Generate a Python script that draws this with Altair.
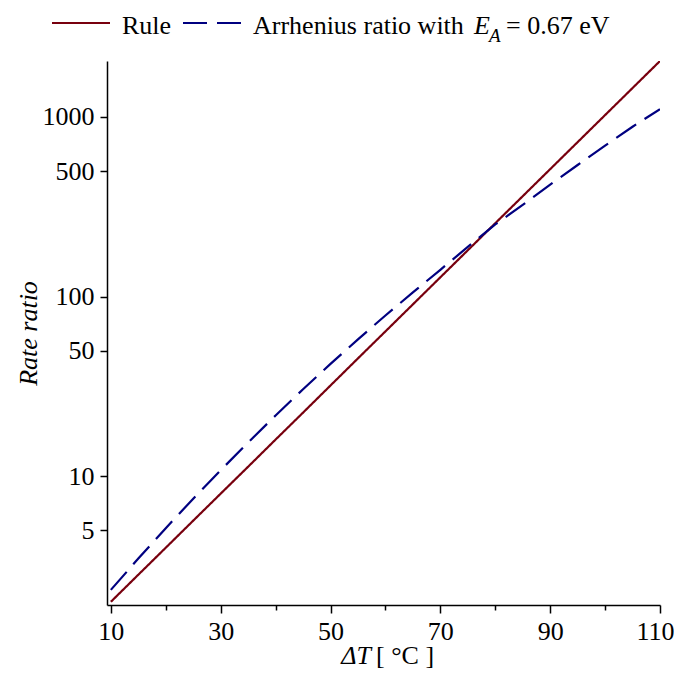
import altair as alt
import pandas as pd

# Values
delta_t = [10, 15, 20, 25, 30, 35, 40, 45, 50, 55, 60, 65, 70, 75, 80, 85, 90, 95, 100, 105, 110]
rule_ratio = [2, 2.83, 4, 5.66, 8, 11.3, 16, 22.6, 32, 45.3, 64, 90.5, 128, 181, 256, 362, 512, 724, 1024, 1448, 2048]
arrhenius_ratio = [2.33, 3.48, 5.14, 7.5, 10.8, 15.4, 21.8, 30.5, 42.2, 57.8, 78.5, 105.5, 141, 189, 252, 324, 420, 540, 692, 882, 1105]

series_names = ["Rule", "Arrhenius"]
series_colors = ["#78000E", "#000080"]
x_major = [10, 30, 50, 70, 90, 110]
x_minor = [20, 40, 60, 80, 100]
y_ticks = [5, 10, 50, 100, 500, 1000]

FONT = "Liberation Serif"
FS = 26

rows = []
for t, r, a in zip(delta_t, rule_ratio, arrhenius_ratio):
    rows.append({"dT": t, "ratio": r, "series": "Rule"})
    rows.append({"dT": t, "ratio": a, "series": "Arrhenius"})
df = pd.DataFrame(rows)

xscale = alt.Scale(domain=[9.3, 110], nice=False, zero=False)
yscale = alt.Scale(type="log", domain=[1.92, 2048], nice=False)

lines = alt.Chart(df).mark_line(strokeWidth=2.2, clip=True).encode(
    x=alt.X("dT:Q", scale=xscale,
            axis=alt.Axis(values=x_major, tickSize=8, labelPadding=5, title=None,
                          grid=False, orient="bottom", labelFlush=False,
                          labelOffset={"condition": {"test": "datum.value >= 110", "value": -5}, "value": 0})),
    y=alt.Y("ratio:Q", scale=yscale,
            axis=alt.Axis(values=y_ticks, tickSize=7, labelPadding=6, grid=False,
                          title="Rate ratio", titleFontStyle="italic", titleFontWeight="normal",
                          titleFont=FONT, titleFontSize=FS, titlePadding=1, format="d")),
    color=alt.Color("series:N", scale=alt.Scale(domain=series_names, range=series_colors), legend=None),
    strokeDash=alt.StrokeDash("series:N", scale=alt.Scale(domain=series_names, range=[[1, 0], [24, 10]]), legend=None),
)

minor = alt.Chart(pd.DataFrame({"dT": x_minor, "ratio": [10] * len(x_minor)})).mark_point(opacity=0).encode(
    x=alt.X("dT:Q", scale=xscale,
            axis=alt.Axis(values=x_minor, tickSize=5, labels=False, domain=False, title=None,
                          grid=False, orient="bottom")),
    y=alt.Y("ratio:Q", scale=yscale, axis=None),
)

one = pd.DataFrame({"a": [0]})

def txt(text, x, y, size=FS, style="normal", align="left"):
    return alt.Chart(one).mark_text(font=FONT, fontSize=size, fontStyle=style, align=align,
                                    baseline="alphabetic", color="black").encode(
        x=alt.value(x), y=alt.value(y), text=alt.value(text))

# Legend (drawn above plot area)
leg_red = alt.Chart(one).mark_rule(color=series_colors[0], strokeWidth=2.2).encode(
    x=alt.value(-55), x2=alt.value(3), y=alt.value(-38))
leg_blue = alt.Chart(one).mark_rule(color=series_colors[1], strokeWidth=2.2, strokeDash=[24, 10]).encode(
    x=alt.value(76), x2=alt.value(135), y=alt.value(-38))

legend_layers = [
    leg_red, leg_blue,
    txt("Rule", 15, -27),
    txt("Arrhenius ratio with", 146, -27),
    txt("E", 367, -27, style="italic"),
    txt("A", 382, -19, size=19, style="italic"),
    txt("= 0.67 eV", 399, -27),
    txt("ΔT", 264, 603, style="italic", align="right"),
    txt("[ °C ]", 269, 603),
]

chart = alt.layer(lines, minor, *legend_layers).resolve_axis(x="independent", y="independent").properties(
    width=553, height=544,
    autosize=alt.AutoSizeParams(type="none"),
    padding={"left": 99, "top": 53, "right": 14, "bottom": 66},
).configure_view(stroke=None).configure_axis(
    domainColor="black", tickColor="black", labelColor="black", titleColor="black",
    domainWidth=1.5, tickWidth=1.5, labelFont=FONT, labelFontSize=FS,
)

chart.save("out.html", embed_options={"renderer": "svg", "actions": False})
